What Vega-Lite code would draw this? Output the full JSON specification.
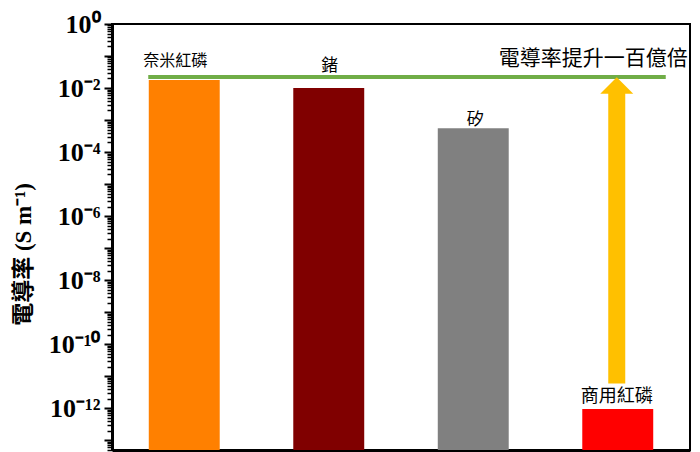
{
  "$schema": "https://vega.github.io/schema/vega-lite/v6.json",
  "width": 578,
  "height": 426,
  "autosize": "none",
  "padding": {"left": 112, "top": 24, "right": 10, "bottom": 2},
  "background": "white",
  "config": {"view": {"stroke": "black", "strokeWidth": 2}},
  "datasets": {
    "bars": [
      {"cat": "奈米紅磷", "v": 0.018},
      {"cat": "鍺", "v": 0.01},
      {"cat": "矽", "v": 0.00056},
      {"cat": "商用紅磷", "v": 9.5e-13}
    ],
    "line": [{"from": "奈米紅磷", "to": "商用紅磷", "v": 0.022, "note": "電導率提升一百億倍"}],
    "arrow": [{"cat": "商用紅磷", "start": 6e-12, "end": 0.007, "tip": 0.022}]
  },
  "layer": [
    {
      "data": {"name": "bars"},
      "mark": {"type": "bar", "opacity": 1},
      "encoding": {
        "x": {
          "field": "cat", "type": "nominal", "sort": null, "title": null,
          "scale": {"domain": ["奈米紅磷", "鍺", "矽", "商用紅磷"], "paddingInner": 0.509, "paddingOuter": 0.2545},
          "axis": {"labels": false, "ticks": false, "title": null, "domainColor": "black", "domainWidth": 3}
        },
        "y": {
          "field": "v", "type": "quantitative", "title": "電導率 (S m⁻¹)",
          "scale": {"type": "log", "domain": [5e-14, 1], "nice": false, "clamp": true},
          "axis": {
            "title": "電導率 (S m⁻¹)",
            "titleFont": "Liberation Serif, Noto Sans CJK TC",
            "titleFontSize": 23,
            "titleFontWeight": "bold",
            "titleColor": "black",
            "titleAngle": 270,
            "titleX": -89,
            "titleY": 230,
            "titleAlign": "center",
            "titleBaseline": "middle",
            "grid": false,
            "domainColor": "black",
            "domainWidth": 3,
            "tickColor": "black",
            "tickSize": {"condition": {"test": "abs(log(datum.value)/LN10 - round(log(datum.value)/LN10)) < 0.001", "value": 8}, "value": 5},
            "tickWidth": {"condition": {"test": "abs(log(datum.value)/LN10 - round(log(datum.value)/LN10)) < 0.001", "value": 2}, "value": 1.5},
            "labelFont": "Liberation Serif",
            "labelFontSize": 26,
            "labelFontWeight": "bold",
            "labelColor": "black",
            "labelPadding": 4,
            "labelOverlap": false,
            "labelBound": false,
            "labelFlush": false,
            "values": [1,
              9e-1,8e-1,7e-1,6e-1,5e-1,4e-1,3e-1,2e-1,1e-1,
              9e-2,8e-2,7e-2,6e-2,5e-2,4e-2,3e-2,2e-2,1e-2,
              9e-3,8e-3,7e-3,6e-3,5e-3,4e-3,3e-3,2e-3,1e-3,
              9e-4,8e-4,7e-4,6e-4,5e-4,4e-4,3e-4,2e-4,1e-4,
              9e-5,8e-5,7e-5,6e-5,5e-5,4e-5,3e-5,2e-5,1e-5,
              9e-6,8e-6,7e-6,6e-6,5e-6,4e-6,3e-6,2e-6,1e-6,
              9e-7,8e-7,7e-7,6e-7,5e-7,4e-7,3e-7,2e-7,1e-7,
              9e-8,8e-8,7e-8,6e-8,5e-8,4e-8,3e-8,2e-8,1e-8,
              9e-9,8e-9,7e-9,6e-9,5e-9,4e-9,3e-9,2e-9,1e-9,
              9e-10,8e-10,7e-10,6e-10,5e-10,4e-10,3e-10,2e-10,1e-10,
              9e-11,8e-11,7e-11,6e-11,5e-11,4e-11,3e-11,2e-11,1e-11,
              9e-12,8e-12,7e-12,6e-12,5e-12,4e-12,3e-12,2e-12,1e-12,
              9e-13,8e-13,7e-13,6e-13,5e-13,4e-13,3e-13,2e-13,1e-13,
              9e-14,8e-14,7e-14,6e-14,5e-14],
            "labelExpr": "abs(log(datum.value)/LN10 - round(log(datum.value)/LN10)) > 0.001 ? '' : round(log(datum.value)/LN10) == 0 ? '10⁰' : round(log(datum.value)/LN10) == -2 ? '10⁻²' : round(log(datum.value)/LN10) == -4 ? '10⁻⁴' : round(log(datum.value)/LN10) == -6 ? '10⁻⁶' : round(log(datum.value)/LN10) == -8 ? '10⁻⁸' : round(log(datum.value)/LN10) == -10 ? '10⁻¹⁰' : round(log(datum.value)/LN10) == -12 ? '10⁻¹²' : ''"
          }
        },
        "color": {
          "field": "cat", "type": "nominal", "legend": null,
          "scale": {"domain": ["奈米紅磷", "鍺", "矽", "商用紅磷"], "range": ["#FF8000", "#800000", "#808080", "#FF0000"]}
        }
      }
    },
    {
      "data": {"name": "line"},
      "mark": {"type": "rule", "color": "#70AD47", "strokeWidth": 4, "xOffset": -36, "x2Offset": 48},
      "encoding": {
        "x": {"field": "from", "type": "nominal", "title": null},
        "x2": {"field": "to"},
        "y": {"field": "v", "type": "quantitative", "title": "電導率 (S m⁻¹)"}
      }
    },
    {
      "data": {"name": "arrow"},
      "mark": {"type": "rule", "color": "#FFC000", "strokeWidth": 17, "strokeCap": "butt", "xOffset": -1},
      "encoding": {
        "x": {"field": "cat", "type": "nominal", "title": null},
        "y": {"field": "start", "type": "quantitative", "title": "電導率 (S m⁻¹)"},
        "y2": {"field": "end"}
      }
    },
    {
      "data": {"name": "arrow"},
      "mark": {"type": "point", "shape": "M0,-0.5L1,0.5L-1,0.5Z", "filled": true, "opacity": 1, "color": "#FFC000", "size": 1089, "yOffset": 8.3, "xOffset": -1},
      "encoding": {
        "x": {"field": "cat", "type": "nominal", "title": null},
        "y": {"field": "tip", "type": "quantitative", "title": "電導率 (S m⁻¹)"}
      }
    },
    {
      "data": {"name": "line"},
      "mark": {"type": "text", "font": "Noto Sans CJK TC", "fontSize": 21, "color": "black", "align": "right", "baseline": "middle", "dx": 70, "dy": -18},
      "encoding": {
        "x": {"field": "to", "type": "nominal", "title": null},
        "y": {"field": "v", "type": "quantitative", "title": "電導率 (S m⁻¹)"},
        "text": {"field": "note"}
      }
    },
    {
      "data": {"name": "bars"},
      "transform": [{"filter": "datum.cat == '奈米紅磷'"}],
      "mark": {"type": "text", "font": "Noto Sans CJK TC", "fontSize": 16, "color": "black", "baseline": "middle", "dx": -9, "dy": -19},
      "encoding": {
        "x": {"field": "cat", "type": "nominal", "title": null},
        "y": {"field": "v", "type": "quantitative", "title": "電導率 (S m⁻¹)"},
        "text": {"field": "cat"}
      }
    },
    {
      "data": {"name": "bars"},
      "transform": [{"filter": "datum.cat == '鍺'"}],
      "mark": {"type": "text", "font": "Noto Sans CJK TC", "fontSize": 17, "color": "black", "baseline": "middle", "dx": 1, "dy": -22},
      "encoding": {
        "x": {"field": "cat", "type": "nominal", "title": null},
        "y": {"field": "v", "type": "quantitative", "title": "電導率 (S m⁻¹)"},
        "text": {"field": "cat"}
      }
    },
    {
      "data": {"name": "bars"},
      "transform": [{"filter": "datum.cat == '矽'"}],
      "mark": {"type": "text", "font": "Noto Sans CJK TC", "fontSize": 17, "color": "black", "baseline": "middle", "dx": 2, "dy": -8},
      "encoding": {
        "x": {"field": "cat", "type": "nominal", "title": null},
        "y": {"field": "v", "type": "quantitative", "title": "電導率 (S m⁻¹)"},
        "text": {"field": "cat"}
      }
    },
    {
      "data": {"name": "bars"},
      "transform": [{"filter": "datum.cat == '商用紅磷'"}],
      "mark": {"type": "text", "font": "Noto Sans CJK TC", "fontSize": 18, "color": "black", "baseline": "middle", "dx": -1, "dy": -12},
      "encoding": {
        "x": {"field": "cat", "type": "nominal", "title": null},
        "y": {"field": "v", "type": "quantitative", "title": "電導率 (S m⁻¹)"},
        "text": {"field": "cat"}
      }
    }
  ]
}
